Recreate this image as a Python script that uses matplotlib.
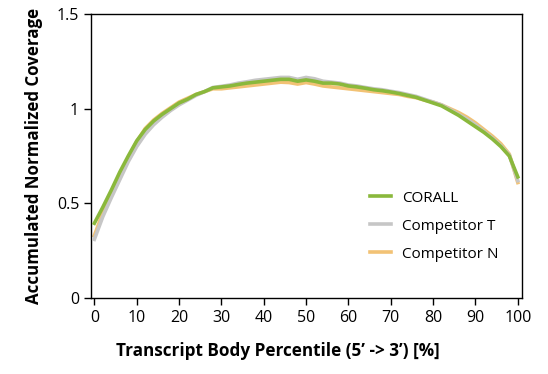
import matplotlib
matplotlib.use("Agg")
import matplotlib.pyplot as plt

x = list(range(0, 101, 2))
corall = [0.395, 0.48, 0.57, 0.665, 0.75, 0.83, 0.89, 0.935, 0.97, 1.0, 1.03, 1.05, 1.075, 1.09, 1.11,
          1.115, 1.12, 1.128, 1.135, 1.14, 1.145, 1.15, 1.155, 1.155, 1.145, 1.152, 1.145, 1.135, 1.135,
          1.13, 1.12, 1.115, 1.108, 1.1, 1.095, 1.088, 1.08, 1.07, 1.06, 1.045, 1.03, 1.015, 0.99, 0.965,
          0.935, 0.905, 0.875, 0.84, 0.8, 0.75, 0.64]
comp_t = [0.31, 0.43, 0.53, 0.625, 0.72, 0.8, 0.865, 0.915, 0.955, 0.99, 1.02, 1.045, 1.07, 1.09, 1.112,
          1.118, 1.125, 1.135, 1.142, 1.15, 1.155, 1.16, 1.165, 1.165, 1.155, 1.165, 1.158, 1.145, 1.14,
          1.135, 1.125, 1.12, 1.112, 1.105, 1.1, 1.092, 1.085, 1.075, 1.065, 1.05, 1.035, 1.02, 0.995, 0.97,
          0.945, 0.915, 0.88, 0.845, 0.805, 0.755, 0.62]
comp_n = [0.33, 0.45, 0.55, 0.645, 0.74, 0.825, 0.895, 0.94, 0.975, 1.005, 1.035, 1.055, 1.075, 1.09, 1.105,
          1.105, 1.11, 1.115, 1.12, 1.125, 1.13, 1.135, 1.14, 1.138, 1.13, 1.138, 1.13, 1.12, 1.115,
          1.11, 1.105, 1.1, 1.095, 1.09, 1.085, 1.08, 1.075, 1.065, 1.058, 1.045, 1.035, 1.02, 1.0, 0.98,
          0.955, 0.925, 0.89, 0.855, 0.815, 0.76, 0.61]
xticks = list(range(0, 101, 10))
yticks = [0, 0.5, 1, 1.5]
ytick_labels = ["0", "0.5", "1", "1.5"]

plt.rcParams['font.family'] = ['Open Sans', 'DejaVu Sans']
fig = plt.figure(figsize=(5.48, 3.74), dpi=100)
ax = fig.add_axes([0.166, 0.203, 0.7866, 0.7596])

l_n, = ax.plot(x, comp_n, color='#f2c275', lw=2.6, zorder=2, label='Competitor N')
l_t, = ax.plot(x, comp_t, color='#c6c6c6', lw=2.6, zorder=3, label='Competitor T')
l_c, = ax.plot(x, corall, color='#8ab83c', lw=2.6, zorder=4, label='CORALL')

ax.set_xlim(-0.8, 101)
ax.set_ylim(0, 1.5)
ax.set_xticks(xticks)
ax.set_yticks(yticks)
ax.set_yticklabels(ytick_labels)
ax.tick_params(direction='out', length=5, width=1, labelsize=11.5, colors='black')
for s in ax.spines.values():
    s.set_linewidth(1)
ax.set_xlabel("Transcript Body Percentile (5\u2019 -> 3\u2019) [%]", fontsize=12.3, fontweight='bold')
ax.xaxis.set_label_coords(0.434, -0.155)
ax.set_ylabel("Accumulated Normalized Coverage", fontsize=12.2, fontweight='bold', labelpad=10)

ax.legend(handles=[l_c, l_t, l_n], loc='center left', bbox_to_anchor=(0.647, 0.2535), frameon=False,
          fontsize=11, handlelength=1.37, handletextpad=0.72, labelspacing=0.85, borderpad=0.0,
          borderaxespad=0.0)

fig.savefig("out.png", dpi=100)
